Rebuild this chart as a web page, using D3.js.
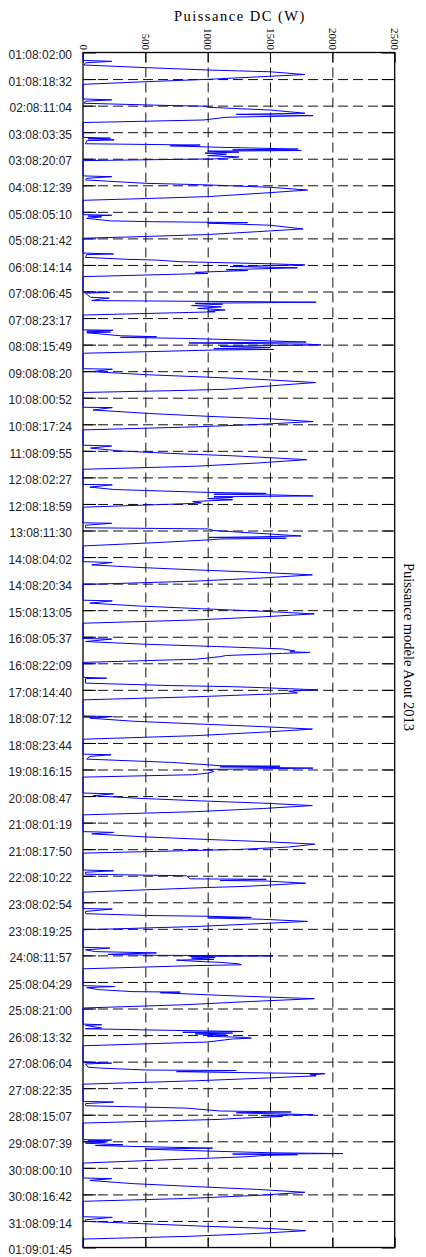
<!DOCTYPE html>
<html>
<head>
<meta charset="utf-8">
<script src="https://cdn.jsdelivr.net/npm/d3@7"></script>
<style>
  html, body { margin: 0; padding: 0; background: #fff; }
  svg { display: block; }
</style>
</head>
<body>
<svg id="chart" width="426" height="1257"></svg>
<script>
// ---------- data ----------
const xTicks = [0, 500, 1000, 1500, 2000, 2500];
const yTickLabels = [
  "01:08:02:00","01:08:18:32","02:08:11:04","03:08:03:35","03:08:20:07","04:08:12:39",
  "05:08:05:10","05:08:21:42","06:08:14:14","07:08:06:45","07:08:23:17","08:08:15:49",
  "09:08:08:20","10:08:00:52","10:08:17:24","11:08:09:55","12:08:02:27","12:08:18:59",
  "13:08:11:30","14:08:04:02","14:08:20:34","15:08:13:05","16:08:05:37","16:08:22:09",
  "17:08:14:40","18:08:07:12","18:08:23:44","19:08:16:15","20:08:08:47","21:08:01:19",
  "21:08:17:50","22:08:10:22","23:08:02:54","23:08:19:25","24:08:11:57","25:08:04:29",
  "25:08:21:00","26:08:13:32","27:08:06:04","27:08:22:35","28:08:15:07","29:08:07:39",
  "30:08:00:10","30:08:16:42","31:08:09:14","01:09:01:45"
];
const xTitle = "Puissance DC (W)";
const sideTitle = "Puissance modèle Aout 2013";

// daily readings: [hour of day, power W]
const d01 = [[6.9,0],[7.5,230],[8.4,20],[9.8,10],[11.4,500],[12.9,1000],[14.0,1500],[15.7,1780],[16.8,1500],[18.7,1000],[20.2,500],[21.8,0]];
const d02 = [[6.9,0],[7.5,230],[8.3,20],[9.6,10],[10.6,500],[11.0,700],[11.4,980],[12.1,1000],[13.8,1500],[15.8,1780],[16.5,1230],[17.3,1845],[18.3,1150],[20.0,970],[21.6,0]];
const d03 = [[6.8,0],[7.3,220],[7.7,40],[8.4,250],[8.9,30],[10.8,20],[11.6,940],[12.1,700],[13.0,1100],[14.1,1725],[14.6,1200],[15.0,1750],[15.4,1000],[16.0,1250],[16.6,980],[17.3,1150],[18.2,1000],[19.0,1250],[19.5,1180],[20.2,1060],[21.3,0]];
const d04 = [[6.8,0],[7.3,230],[8.3,30],[9.3,20],[11.4,500],[12.4,1000],[13.9,1500],[15.6,1800],[17.5,1450],[19.7,1000],[20.9,500],[22.0,0]];
const d05 = [[6.9,0],[7.3,230],[7.8,40],[8.3,150],[9.2,30],[10.8,220],[11.3,560],[11.9,1320],[12.2,1000],[13.5,1500],[15.8,1765],[17.5,1400],[19.3,1000],[20.5,500],[21.6,0]];
const d06 = [[6.8,0],[7.4,245],[7.8,30],[9.5,20],[10.7,350],[11.2,590],[12.2,780],[13.5,1500],[14.2,1780],[15.2,1180],[16.0,1720],[17.2,1150],[17.7,1320],[18.8,900],[19.5,1000],[21.5,0]];
const d07 = [[6.9,0],[7.3,215],[7.8,20],[10.3,60],[10.9,210],[11.4,140],[12.4,70],[13.4,1870],[14.1,900],[14.6,1120],[15.5,870],[16.3,1110],[17.3,920],[18.2,1140],[19.0,1000],[19.4,1060],[21.4,0]];
const d08 = [[6.6,0],[6.9,240],[7.4,30],[8.0,220],[8.4,30],[10.3,300],[10.9,590],[11.3,300],[12.0,860],[13.0,1300],[14.2,1790],[14.8,850],[15.5,1800],[16.0,1910],[16.8,1100],[17.6,1500],[18.3,1050],[18.8,1530],[19.2,1040],[21.2,0]];
const d09 = [[6.8,0],[7.1,235],[8.6,70],[10.5,500],[12.0,980],[13.6,1460],[15.4,1865],[17.5,1500],[19.6,1150],[20.5,700],[21.6,0]];
const d10 = [[6.8,0],[7.0,235],[8.5,80],[10.8,560],[12.6,1050],[14.0,1500],[15.7,1845],[17.5,1400],[19.0,900],[20.9,0]];
const d11 = [[6.4,0],[6.9,230],[8.2,60],[10.0,300],[11.5,700],[13.0,1200],[15.4,1795],[17.5,1400],[19.5,900],[21.4,0]];
const d12 = [[6.8,0],[7.1,235],[8.5,55],[10.0,250],[11.8,1000],[12.4,1470],[12.9,1050],[13.4,1550],[14.0,1845],[14.5,1050],[15.0,1200],[15.6,1000],[16.4,1200],[17.2,950],[17.6,880],[18.3,950],[18.7,870],[21.0,0]];
const d13 = [[6.7,0],[7.0,230],[8.2,20],[9.8,20],[10.5,1000],[11.5,1050],[13.0,1350],[14.9,1750],[15.5,1350],[15.8,1010],[16.3,1630],[16.8,1100],[17.4,990],[19.0,600],[21.1,0]];
const d14 = [[6.9,0],[7.4,235],[8.9,70],[10.5,450],[12.0,900],[13.5,1400],[15.1,1840],[17.0,1450],[19.0,900],[21.1,0]];
const d15 = [[6.9,0],[7.3,235],[8.7,55],[10.5,450],[12.2,950],[13.8,1450],[15.4,1855],[17.2,1450],[19.2,900],[21.2,0]];
const d16 = [[6.7,0],[7.1,230],[8.6,20],[10.3,500],[11.7,1070],[13.2,1600],[14.5,1700],[15.0,1660],[15.4,1820],[16.0,1600],[17.3,1150],[18.0,1100],[19.6,910],[21.6,0]];
const d17 = [[6.9,0],[7.4,190],[7.7,20],[10.5,20],[12.0,700],[12.7,1200],[13.5,1500],[14.7,1885],[15.5,1650],[16.6,1720],[17.3,1500],[19.0,900],[20.9,0]];
const d18 = [[6.9,0],[7.3,235],[8.3,55],[10.2,400],[12.0,950],[13.6,1450],[15.1,1840],[17.0,1450],[19.2,900],[21.4,0]];
const d19 = [[6.7,0],[7.1,225],[8.1,55],[9.8,30],[11.8,700],[13.3,1000],[13.9,1100],[14.2,1580],[14.6,1100],[15.0,1500],[15.4,1845],[16.2,1000],[17.5,1050],[18.5,1000],[19.5,880],[21.0,0]];
const d20 = [[6.9,0],[7.4,245],[8.6,80],[10.2,450],[11.8,950],[13.2,1450],[14.7,1840],[16.5,1450],[18.5,900],[20.5,0]];
const d21 = [[6.9,0],[7.4,245],[8.3,70],[10.2,500],[11.8,1000],[13.3,1500],[14.7,1860],[16.5,1650],[18.0,1250],[20.3,0]];
const d22 = [[6.8,0],[7.3,245],[8.2,20],[9.4,20],[10.4,830],[12.3,860],[12.6,1470],[13.3,1100],[13.7,1480],[15.0,1785],[17.0,1300],[17.7,1000],[20.6,0]];
const d23 = [[6.8,0],[7.1,235],[8.6,20],[10.0,20],[11.1,510],[11.6,1000],[12.3,1350],[12.6,1000],[13.5,1450],[14.8,1800],[16.6,1300],[18.0,900],[20.0,0]];
const d24 = [[6.9,0],[7.4,215],[8.5,20],[9.6,100],[10.4,590],[11.3,200],[11.9,580],[12.2,1525],[12.6,860],[13.2,1060],[13.6,870],[14.4,1050],[14.9,750],[15.6,900],[16.3,1100],[17.2,1250],[17.8,1270],[18.3,900],[20.3,0]];
const d25 = [[6.8,0],[7.3,255],[8.0,30],[9.3,130],[10.5,400],[10.8,780],[11.2,620],[12.8,1100],[14.9,1855],[16.8,1300],[18.7,800],[20.7,0]];
const d26 = [[6.7,0],[7.1,150],[7.5,20],[9.2,150],[9.6,20],[10.6,700],[11.3,1285],[11.8,800],[12.3,1200],[12.8,900],[13.5,1150],[14.3,1000],[15.0,1300],[15.4,1350],[16.0,1200],[17.9,990],[18.3,800],[20.2,0]];
const d27 = [[6.4,0],[7.0,230],[7.5,20],[9.5,40],[10.1,140],[11.3,510],[11.6,1230],[12.3,750],[12.6,1000],[13.6,1940],[14.3,1820],[14.9,1870],[16.5,1400],[18.0,900],[20.1,0]];
const d28 = [[6.8,0],[7.2,245],[8.2,20],[9.5,20],[11.0,830],[12.8,1100],[13.4,1670],[13.9,1230],[14.4,1450],[15.1,1845],[15.6,1430],[16.2,1600],[17.4,1230],[18.0,1100],[20.3,0]];
const d29 = [[6.6,0],[6.9,230],[7.4,40],[8.2,180],[8.8,20],[9.5,200],[9.8,320],[10.3,100],[11.4,720],[11.9,1040],[12.5,500],[13.5,900],[14.8,1500],[15.3,2085],[15.6,1200],[16.0,1720],[16.4,1470],[17.3,1300],[18.5,900],[21.2,0]];
const d30 = [[6.5,0],[6.9,230],[8.0,55],[10.0,400],[12.0,950],[13.6,1400],[15.4,1780],[17.3,1400],[19.2,850],[21.0,0]];
const d31 = [[6.6,0],[7.0,235],[8.5,20],[9.5,20],[11.0,500],[12.6,1000],[13.9,1500],[15.3,1785],[17.0,1400],[18.8,850],[20.5,0]];
const dailyReadings = [d01,d02,d03,d04,d05,d06,d07,d08,d09,d10,d11,d12,d13,d14,d15,d16,
  d17,d18,d19,d20,d21,d22,d23,d24,d25,d26,d27,d28,d29,d30,d31];

// ---------- helpers ----------
// label "DD:MM:HH:MM" -> hours since 01 Aug 00:00
function labelToHours(s) {
  const [dd, mm, hh, mi] = s.split(":").map(Number);
  const dayIndex = (mm === 8 ? 0 : 31) + dd - 1;
  return dayIndex * 24 + hh + mi / 60;
}
const tStart = labelToHours(yTickLabels[0]);
const tEnd = labelToHours(yTickLabels[yTickLabels.length - 1]);

const series = [[tStart, 0]];
dailyReadings.forEach((day, i) => {
  day.forEach(([h, w]) => series.push([i * 24 + h, w]));
});
series.push([tEnd, 0]);

// ---------- layout ----------
const plot = { left: 83, right: 394.7, top: 52.5, bottom: 1247.5 };
const svg = d3.select("#chart");

const x = d3.scaleLinear().domain([0, 2500]).range([plot.left, plot.right]);
const y = d3.scaleLinear().domain([tStart, tEnd]).range([plot.top, plot.bottom]);
const yTickVals = yTickLabels.map(labelToHours);
const labelOf = new Map(yTickLabels.map(s => [labelToHours(s), s]));

const W = plot.right - plot.left;
const H = plot.bottom - plot.top;

// dashed grid (horizontal)
const gridH = svg.append("g")
  .attr("transform", `translate(${plot.left},0)`)
  .call(d3.axisLeft(y).tickValues(yTickVals.slice(1, -1)).tickSize(-W).tickFormat(""));
gridH.select(".domain").remove();
gridH.selectAll("line").attr("stroke", "#111").attr("stroke-width", 1).attr("stroke-dasharray", "10,5");

// dashed grid (vertical)
const gridV = svg.append("g")
  .attr("transform", `translate(0,${plot.top})`)
  .call(d3.axisTop(x).tickValues(xTicks.slice(1, -1)).tickSize(-H).tickFormat(""));
gridV.select(".domain").remove();
gridV.selectAll("line").attr("stroke", "#111").attr("stroke-width", 1).attr("stroke-dasharray", "10,5");

// inner solid ticks
function solidTicks(g) {
  g.select(".domain").remove();
  g.selectAll("line").attr("stroke", "#000").attr("stroke-width", 1);
}
svg.append("g").attr("transform", `translate(${plot.left},0)`)
  .call(d3.axisLeft(y).tickValues(yTickVals).tickSize(-13).tickFormat("")).call(solidTicks);
svg.append("g").attr("transform", `translate(${plot.right},0)`)
  .call(d3.axisRight(y).tickValues(yTickVals).tickSize(-13).tickFormat("")).call(solidTicks);
svg.append("g").attr("transform", `translate(0,${plot.top})`)
  .call(d3.axisTop(x).tickValues(xTicks).tickSize(-10).tickFormat("")).call(solidTicks);
svg.append("g").attr("transform", `translate(0,${plot.bottom})`)
  .call(d3.axisBottom(x).tickValues(xTicks).tickSize(-10).tickFormat("")).call(solidTicks);

// frame
svg.append("rect")
  .attr("x", plot.left).attr("y", plot.top).attr("width", W).attr("height", H)
  .attr("fill", "none").attr("stroke", "#000").attr("stroke-width", 1.3);

// data line
const line = d3.line().x(d => x(d[1])).y(d => y(d[0]));
svg.append("path")
  .datum(series)
  .attr("d", line)
  .attr("fill", "none")
  .attr("stroke", "#0000ff")
  .attr("stroke-width", 1)
  .attr("stroke-linejoin", "round");

// y labels
const yLab = svg.append("g")
  .attr("transform", `translate(${plot.left},0)`)
  .call(d3.axisLeft(y).tickValues(yTickVals).tickSize(0).tickPadding(11).tickFormat(v => labelOf.get(v)));
yLab.select(".domain").remove();
yLab.selectAll("text")
  .attr("font-family", "'Liberation Sans', Arial, sans-serif")
  .attr("font-size", 12)
  .attr("fill", "#222")
  .attr("dy", "0.52em");

// x labels (rotated)
const xLab = svg.append("g")
  .attr("transform", `translate(0,${plot.top})`)
  .call(d3.axisTop(x).tickValues(xTicks).tickSize(0).tickFormat(d3.format("d")));
xLab.select(".domain").remove();
xLab.selectAll("text")
  .attr("font-family", "'Liberation Serif', 'Times New Roman', serif")
  .attr("font-size", 11)
  .attr("fill", "#000")
  .attr("text-anchor", "end")
  .attr("dy", null)
  .attr("y", 0)
  .attr("transform", "translate(-3.8,-2.5) rotate(90)");

// titles
svg.append("text")
  .attr("x", (plot.left + plot.right) / 2 + 1)
  .attr("y", 21)
  .attr("text-anchor", "middle")
  .attr("font-family", "'Liberation Serif', 'Times New Roman', serif")
  .attr("font-size", 14.5)
  .attr("letter-spacing", "1.5px")
  .attr("fill", "#000")
  .text(xTitle);

svg.append("text")
  .attr("transform", `translate(404,${(plot.top + plot.bottom) / 2 - 3}) rotate(90)`)
  .attr("text-anchor", "middle")
  .attr("font-family", "'Liberation Serif', 'Times New Roman', serif")
  .attr("font-size", 14.5)
  .attr("fill", "#000")
  .text(sideTitle);
</script>
</body>
</html>
